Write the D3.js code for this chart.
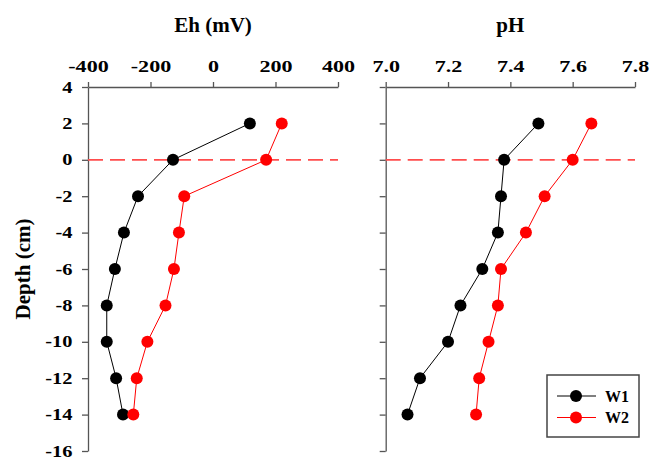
<!DOCTYPE html>
<html lang="en">
<head>
    <meta charset="UTF-8">
    <script src="https://d3js.org/d3.v7.min.js"></script>
    <style>
        body {
            margin: 0;
            background: #fff;
        }
        svg text {
            font-family: "Liberation Serif", "Times New Roman", serif;
            font-weight: bold;
            fill: #000;
        }
    </style>
</head>
<body>
    <svg width="651" height="459"></svg>

    <script>
        // data
        const depths = [2, 0, -2, -4, -6, -8, -10, -12, -14];
        const ehW1 = [118, -128, -240, -285, -314, -340, -340, -310, -288];
        const ehW2 = [220, 170, -92, -109, -125, -152, -210, -244, -255];
        const phW1 = [7.49, 7.38, 7.37, 7.36, 7.31, 7.24, 7.20, 7.11, 7.07];
        const phW2 = [7.66, 7.60, 7.51, 7.45, 7.37, 7.36, 7.33, 7.30, 7.29];
        const ehTicks = [-400, -200, 0, 200, 400];
        const phTicks = [7.0, 7.2, 7.4, 7.6, 7.8];
        const depthTicks = [4, 2, 0, -2, -4, -6, -8, -10, -12, -14, -16];
        const seriesNames = ["W1", "W2"];
        const seriesColors = ["#000000", "#ff0000"];

        const svg = d3.select("svg");
        const axisColor = "#555";

        const y = d3.scaleLinear().domain([4, -16]).range([87, 451]);

        const panels = [
            { title: "Eh (mV)", domain: [-400, 400], range: [88, 338], ticks: ehTicks,
              fmt: d => String(d), values: [ehW1, ehW2], yLabels: true },
            { title: "pH", domain: [7.0, 7.8], range: [385.7, 635], ticks: phTicks,
              fmt: d => d.toFixed(1), values: [phW1, phW2], yLabels: false }
        ];

        panels.forEach(p => {
            const x = d3.scaleLinear().domain(p.domain).range(p.range);
            const g = svg.append("g");

            // top axis
            const gx = g.append("g")
                .attr("transform", `translate(0,${y(4)})`)
                .call(d3.axisTop(x).tickValues(p.ticks).tickFormat(p.fmt).tickSize(5).tickSizeOuter(0));
            gx.selectAll("text")
                .attr("y", -15)
                .attr("dy", 0)
                .attr("transform", "scale(1.3,1)")
                .style("font-size", "17px");

            // left axis
            const gy = g.append("g")
                .attr("transform", `translate(${p.range[0]},0)`)
                .call(d3.axisLeft(y).tickValues(depthTicks)
                    .tickFormat(p.yLabels ? (d => String(d)) : "")
                    .tickSize(6).tickSizeOuter(0));
            gy.selectAll("text")
                .attr("x", -13)
                .attr("dy", "0.3em")
                .attr("transform", "scale(1.2,1)")
                .style("font-size", "17px");

            [gx, gy].forEach(a => {
                a.select(".domain").attr("stroke", axisColor).attr("stroke-width", 1.3);
                a.selectAll(".tick line").attr("stroke", axisColor).attr("stroke-width", 1.3);
            });

            // dashed line at depth 0
            g.append("line")
                .attr("x1", p.range[0]).attr("x2", p.range[1])
                .attr("y1", y(0)).attr("y2", y(0))
                .attr("stroke", "#ff4d4d")
                .attr("stroke-width", 1.8)
                .attr("stroke-dasharray", "15,7");

            // series
            p.values.forEach((vals, si) => {
                const pts = vals.map((v, i) => [x(v), y(depths[i])]);
                g.append("path")
                    .attr("d", d3.line()(pts))
                    .attr("fill", "none")
                    .attr("stroke", seriesColors[si])
                    .attr("stroke-width", 1);
                g.selectAll(null)
                    .data(pts)
                    .enter()
                    .append("circle")
                    .attr("cx", d => d[0])
                    .attr("cy", d => d[1])
                    .attr("r", 6)
                    .attr("fill", seriesColors[si]);
            });

            // panel title
            svg.append("text")
                .attr("x", (p.range[0] + p.range[1]) / 2)
                .attr("y", 31.5)
                .attr("text-anchor", "middle")
                .style("font-size", "21px")
                .text(p.title);
        });

        // y axis title
        svg.append("text")
            .attr("transform", `translate(29.5,${(y(4) + y(-16)) / 2}) rotate(-90)`)
            .attr("text-anchor", "middle")
            .style("font-size", "21px")
            .text("Depth (cm)");

        // legend
        const legend = svg.append("g");
        legend.append("rect")
            .attr("x", 547).attr("y", 375)
            .attr("width", 92).attr("height", 62)
            .attr("fill", "#fff")
            .attr("stroke", "#444")
            .attr("stroke-width", 1.5);
        seriesNames.forEach((name, i) => {
            const ly = 396 + i * 21.5;
            legend.append("line")
                .attr("x1", 557).attr("x2", 596)
                .attr("y1", ly).attr("y2", ly)
                .attr("stroke", seriesColors[i])
                .attr("stroke-width", 1);
            legend.append("circle")
                .attr("cx", 576).attr("cy", ly).attr("r", 6)
                .attr("fill", seriesColors[i]);
            legend.append("text")
                .attr("x", 605).attr("y", ly)
                .attr("dy", "0.35em")
                .style("font-size", "16px")
                .text(name);
        });
    </script>
</body>
</html>
